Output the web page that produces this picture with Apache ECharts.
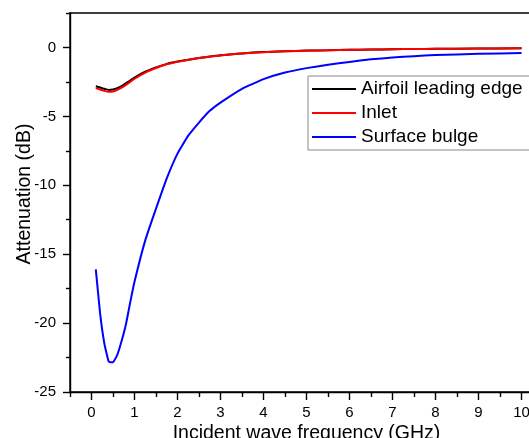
<!DOCTYPE html>
<html>
<head>
<meta charset="utf-8">
<script src="https://cdn.jsdelivr.net/npm/echarts@6/dist/echarts.min.js"></script>
<style>
html,body{margin:0;padding:0;background:#fff;}
#chart{width:529px;height:438px;}
</style>
</head>
<body>
<div id="chart"></div>
<script>
// ---- data ----
var freq    = [0.1, 0.2, 0.3, 0.4, 0.5, 0.6, 0.7, 0.8, 0.9, 1.0, 1.25, 1.5, 1.75, 2.0, 2.25, 2.5, 2.75, 3.0, 3.5, 4.0, 4.5, 5.0, 5.5, 6.0, 6.5, 7.0, 7.5, 8.0, 9.0, 10.0];
var airfoil = [-2.82, -2.9, -3.0, -3.08, -3.05, -2.95, -2.8, -2.6, -2.4, -2.18, -1.76, -1.45, -1.19, -1.02, -0.89, -0.76, -0.66, -0.57, -0.43, -0.33, -0.27, -0.23, -0.2, -0.17, -0.15, -0.13, -0.11, -0.1, -0.08, -0.06];
var inlet   = [-2.95, -3.05, -3.15, -3.22, -3.2, -3.08, -2.92, -2.72, -2.5, -2.27, -1.82, -1.49, -1.22, -1.04, -0.9, -0.77, -0.67, -0.58, -0.44, -0.34, -0.28, -0.24, -0.2, -0.17, -0.15, -0.13, -0.11, -0.1, -0.08, -0.06];
var bulge   = [-16.1, -19.3, -21.5, -22.8, -22.85, -22.3, -21.3, -20.1, -18.5, -17.0, -14.0, -11.7, -9.5, -7.7, -6.4, -5.45, -4.6, -4.0, -3.0, -2.3, -1.82, -1.5, -1.26, -1.05, -0.86, -0.73, -0.63, -0.55, -0.46, -0.41];
var seriesNames = ['Airfoil leading edge', 'Inlet', 'Surface bulge'];
var xMajor = [0, 1, 2, 3, 4, 5, 6, 7, 8, 9, 10];
var xMinor = [-0.5, 0.5, 1.5, 2.5, 3.5, 4.5, 5.5, 6.5, 7.5, 8.5, 9.5, 10.5];
var yMajor = [-25, -20, -15, -10, -5, 0];
var yMinor = [-22.5, -17.5, -12.5, -7.5, -2.5, 2.5];
var xTitle = 'Incident wave frequency (GHz)';
var yTitle = 'Attenuation (dB)';

function pairs(ys){ return freq.map(function(f,i){ return [f, ys[i]]; }); }

var FONT = '"Liberation Sans", Arial, sans-serif';
var chart = echarts.init(document.getElementById('chart'), null, {renderer:'canvas'});
var axisLine = {show:true, onZero:false, lineStyle:{color:'#000', width:1.4}};
var LINE_ICON = 'path://M0,9L44,9L44,11L0,11Z';

chart.setOption({
  animation:false,
  backgroundColor:'#fff',
  textStyle:{fontFamily:FONT},
  grid:{left:70, top:13, width:473, height:379, show:true, borderColor:'#000', borderWidth:1.4, containLabel:false, outerBoundsMode:'none'},
  legend:{
    orient:'vertical', left:308, top:76,
    padding:[3, 40, 3, 4], itemGap:4,
    itemWidth:44, itemHeight:20,
    borderColor:'#888', borderWidth:1, backgroundColor:'#fff',
    textStyle:{fontFamily:FONT, fontSize:19, color:'#000', lineHeight:20},
    data:seriesNames.map(function(n){ return {name:n, icon:LINE_ICON}; })
  },
  xAxis:[{
    type:'value', min:-0.5, max:10.5,
    axisLine:axisLine,
    splitLine:{show:false},
    axisTick:{show:true, inside:false, length:8, lineStyle:{color:'#000', width:1.4}, customValues:xMajor},
    axisLabel:{customValues:xMajor, fontSize:15, color:'#000', margin:13, fontFamily:FONT},
    name:xTitle, nameLocation:'middle', nameGap:32, nameMoveOverlap:false,
    nameTextStyle:{fontSize:19.5, color:'#000', fontFamily:FONT}
  },{
    type:'value', min:-0.5, max:10.5, position:'bottom',
    axisLine:{show:false, onZero:false}, splitLine:{show:false},
    axisTick:{show:true, length:5, lineStyle:{color:'#000', width:1.4}, customValues:xMinor},
    axisLabel:{show:false}
  }],
  yAxis:[{
    type:'value', min:-25, max:2.5,
    axisLine:axisLine,
    splitLine:{show:false},
    axisTick:{show:true, length:7, lineStyle:{color:'#000', width:1.4}, customValues:yMajor},
    axisLabel:{customValues:yMajor, fontSize:15, color:'#000', margin:14, fontFamily:FONT},
    name:yTitle, nameLocation:'middle', nameGap:35, nameMoveOverlap:false,
    nameTextStyle:{fontSize:19.5, color:'#000', fontFamily:FONT, padding:[0,0,0,17]}
  },{
    type:'value', min:-25, max:2.5, position:'left',
    axisLine:{show:false, onZero:false}, splitLine:{show:false},
    axisTick:{show:true, length:4, lineStyle:{color:'#000', width:1.4}, customValues:yMinor},
    axisLabel:{show:false}
  }],
  series:[
    {name:seriesNames[0], type:'line', data:pairs(airfoil), symbol:'none', smooth:0.3, lineStyle:{color:'#000', width:2}, itemStyle:{color:'#000'}},
    {name:seriesNames[1], type:'line', data:pairs(inlet), symbol:'none', smooth:0.3, lineStyle:{color:'#ff0000', width:2}, itemStyle:{color:'#ff0000'}},
    {name:seriesNames[2], type:'line', data:pairs(bulge), symbol:'none', smooth:0.1, lineStyle:{color:'#0000ff', width:2}, itemStyle:{color:'#0000ff'}}
  ]
});
</script>
</body>
</html>
